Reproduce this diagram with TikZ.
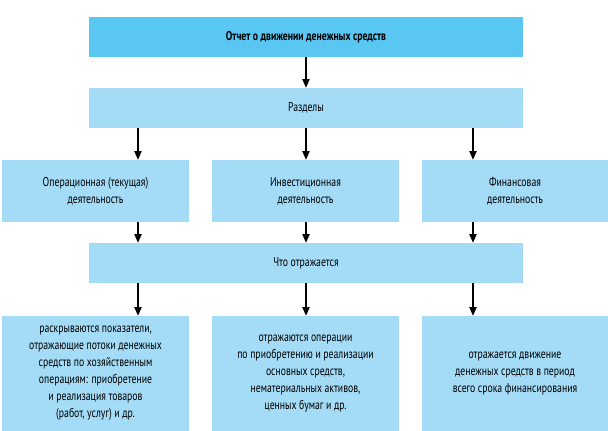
\documentclass[tikz,border=0pt]{standalone}
\usepackage{fontspec}
\setmainfont{PT Sans}[FakeStretch=0.76]
\usetikzlibrary{arrows.meta}

\definecolor{headblue}{RGB}{90,198,242}
\definecolor{boxblue}{RGB}{164,219,246}

\tikzset{
  box/.style={fill=boxblue, align=center, inner sep=0pt,
    font=\fontsize{9.6}{12.75}\selectfont},
  wide/.style={box, minimum width=325.5pt, minimum height=30pt},
  cell/.style={box, minimum width=140.25pt},
  arr/.style={-{Triangle[width=5.5pt,length=6.5pt]}, line width=0.8pt}
}

\begin{document}
\begin{tikzpicture}[x=0.75pt,y=-0.75pt]
            \useasboundingbox (0,0) rectangle (608,431);
            % levels
            \node[wide, fill=headblue, font=\fontsize{9.6}{12.75}\selectfont\bfseries] (report) at (306,37) {Отчет о движении денежных средств};
            \node[wide] (sections) at (306,108) {Разделы};
            \node[cell, minimum height=46.5pt] (oper) at (95.5,191) {Операционная (текущая)\\деятельность};
            \node[cell, minimum height=46.5pt] (invest) at (305.5,191) {Инвестиционная\\деятельность};
            \node[cell, minimum height=46.5pt] (finance) at (515,191) {Финансовая\\деятельность};
            \node[wide] (shows) at (306,263) {Что отражается};
            \node[cell, minimum height=86.25pt] (operTxt) at (95.5,373.5) {раскрываются показатели,\\отражающие потоки денежных\\средств по хозяйственным\\операциям: приобретение\\и реализация товаров\\(работ, услуг) и др.};
            \node[cell, minimum height=86.25pt] (investTxt) at (305.5,373.5) {отражаются операции\\по приобретению и реализации\\основных средств,\\нематериальных активов,\\ценных бумаг и др.};
            \node[cell, minimum height=86.25pt] (financeTxt) at (515,373.5) {отражается движение\\денежных средств в период\\всего срока финансирования};
            % arrow columns
            \coordinate (colA) at (138,0);
            \coordinate (colB) at (306,0);
            \coordinate (colC) at (473,0);
            \draw[arr] (report) -- (sections);
            \draw[arr] (sections.south -| colA) -- (oper.north -| colA);
            \draw[arr] (sections.south -| colB) -- (invest.north -| colB);
            \draw[arr] (sections.south -| colC) -- (finance.north -| colC);
            \draw[arr] (oper.south -| colA) -- (shows.north -| colA);
            \draw[arr] (invest.south -| colB) -- (shows.north -| colB);
            \draw[arr] (finance.south -| colC) -- (shows.north -| colC);
            \draw[arr] (shows.south -| colA) -- (operTxt.north -| colA);
            \draw[arr] (shows.south -| colB) -- (investTxt.north -| colB);
            \draw[arr] (shows.south -| colC) -- (financeTxt.north -| colC);
        \end{tikzpicture}
\end{document}
